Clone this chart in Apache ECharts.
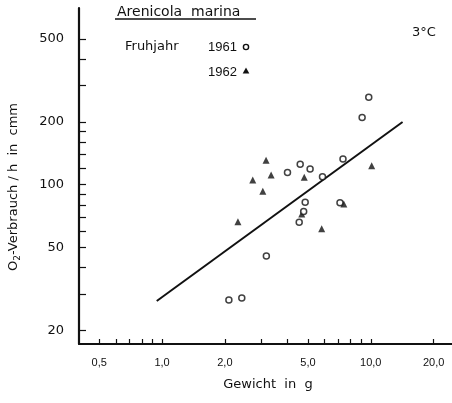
<!DOCTYPE html>
<html>
<head>
<meta charset="utf-8">
<script src="https://cdn.jsdelivr.net/npm/echarts@6/dist/echarts.min.js"></script>
<style>
html,body{margin:0;padding:0;background:#fff;}
#chart{width:452px;height:403px;}
</style>
</head>
<body>
<div id="chart"></div>
<script>
// Data (weight in g, O2 consumption per h in cmm)
const weight1961 = [2.09, 2.41, 3.16, 3.99, 4.59, 5.12, 5.87, 7.36, 4.85, 4.77, 4.54, 7.12, 9.09, 9.78];
const oxygen1961 = [28.0, 28.6, 45.5, 114.6, 125.4, 119, 109.3, 132.9, 82.4, 74.4, 66.1, 82.0, 210, 263];
const weight1962 = [3.15, 2.72, 3.33, 3.04, 2.31, 4.80, 4.67, 5.82, 7.43, 10.1];
const oxygen1962 = [131, 105.5, 111.3, 93.1, 66.5, 108.6, 72.4, 61.5, 80.9, 123.4];
const lineWeight = [0.943, 14.2];
const lineOxygen = [27.7, 200];
const xTicks = [0.5, 0.6, 0.7, 0.8, 0.9, 1, 2, 3, 4, 5, 6, 7, 8, 9, 10, 20];
const xLabels = [0.5, 1, 2, 5, 10, 20];
const yTicks = [20, 30, 40, 50, 60, 70, 80, 90, 100, 120, 140, 160, 180, 200, 300, 400, 500];
const yLabels = [20, 50, 100, 200, 500];

const chart = echarts.init(document.getElementById('chart'));
const ink = '#111';
const font = 'DejaVu Sans';

const tri = (cx, cy, s) => [[cx, cy - s], [cx + s * 0.95, cy + s * 0.7], [cx - s * 0.95, cy + s * 0.7]];

chart.setOption({
  animation: false,
  backgroundColor: '#fff',
  grid: { left: 79, top: 8, right: 0, bottom: 59, containLabel: false },
  xAxis: {
    type: 'log', min: 0.4, max: 24.5,
    axisLine: { show: true, lineStyle: { color: ink, width: 2 } },
    axisTick: { show: true, inside: true, length: 5, customValues: xTicks, lineStyle: { color: ink, width: 1.2 } },
    minorTick: { show: false },
    splitLine: { show: false },
    axisLabel: {
      customValues: xLabels, margin: 13, color: ink, fontFamily: 'Liberation Sans', fontSize: 11,
      formatter: v => (Math.round(v * 10) / 10).toFixed(1).replace('.', ',')
    }
  },
  yAxis: {
    type: 'log', min: 17.23, max: 704,
    axisLine: { show: true, lineStyle: { color: ink, width: 2.2 } },
    axisTick: { show: true, inside: true, length: 7, customValues: yTicks, lineStyle: { color: ink, width: 1.2 } },
    splitLine: { show: false },
    axisLabel: {
      customValues: yLabels, margin: 15, color: ink, fontFamily: font, fontSize: 13,
      formatter: v => String(Math.round(v))
    }
  },
  series: [
    {
      type: 'line', data: lineWeight.map((w, i) => [w, lineOxygen[i]]),
      showSymbol: false, lineStyle: { color: ink, width: 2 }, z: 2
    },
    {
      type: 'scatter', data: weight1961.map((w, i) => [w, oxygen1961[i]]),
      symbol: 'circle', symbolSize: 6,
      itemStyle: { color: '#fff', borderColor: ink, borderWidth: 1.5 }, z: 4
    },
    {
      type: 'scatter', data: weight1962.map((w, i) => [w, oxygen1962[i]]),
      symbol: 'triangle', symbolSize: 7,
      itemStyle: { color: ink }, z: 3
    }
  ],
  graphic: [
    { type: 'text', x: 14, y: 187, rotation: Math.PI / 2,
      style: { text: 'O{s|2}-Verbrauch / h  in  cmm', fontFamily: font, fontSize: 13, fill: ink,
        align: 'center', verticalAlign: 'middle',
        rich: { s: { fontSize: 9, fontFamily: font, fill: ink, padding: [8, 0, 0, 0] } } } },
    { type: 'text', x: 268, y: 385,
      style: { text: 'Gewicht  in  g', fontFamily: font, fontSize: 13, fill: ink, align: 'center', verticalAlign: 'middle' } },
    { type: 'text', x: 117, y: 12,
      style: { text: 'Arenicola  marina', fontFamily: font, fontSize: 14, fill: ink, align: 'left', verticalAlign: 'middle' } },
    { type: 'line', shape: { x1: 115, y1: 19, x2: 256, y2: 19 }, style: { stroke: ink, lineWidth: 1.5 } },
    { type: 'text', x: 125, y: 47,
      style: { text: 'Fruhjahr', fontFamily: font, fontSize: 13, fill: ink, align: 'left', verticalAlign: 'middle' } },
    { type: 'text', x: 208, y: 47,
      style: { text: '1961', fontFamily: 'Liberation Sans', fontSize: 13, fill: ink, align: 'left', verticalAlign: 'middle' } },
    { type: 'circle', shape: { cx: 246, cy: 47, r: 2.6 }, style: { fill: '#fff', stroke: ink, lineWidth: 1.4 } },
    { type: 'text', x: 208, y: 72,
      style: { text: '1962', fontFamily: 'Liberation Sans', fontSize: 13, fill: ink, align: 'left', verticalAlign: 'middle' } },
    { type: 'polygon', shape: { points: tri(246, 71, 3.5) }, style: { fill: ink } },
    { type: 'text', x: 424, y: 33,
      style: { text: '3°C', fontFamily: font, fontSize: 13, fill: ink, align: 'center', verticalAlign: 'middle' } }
  ]
});
</script>
</body>
</html>
